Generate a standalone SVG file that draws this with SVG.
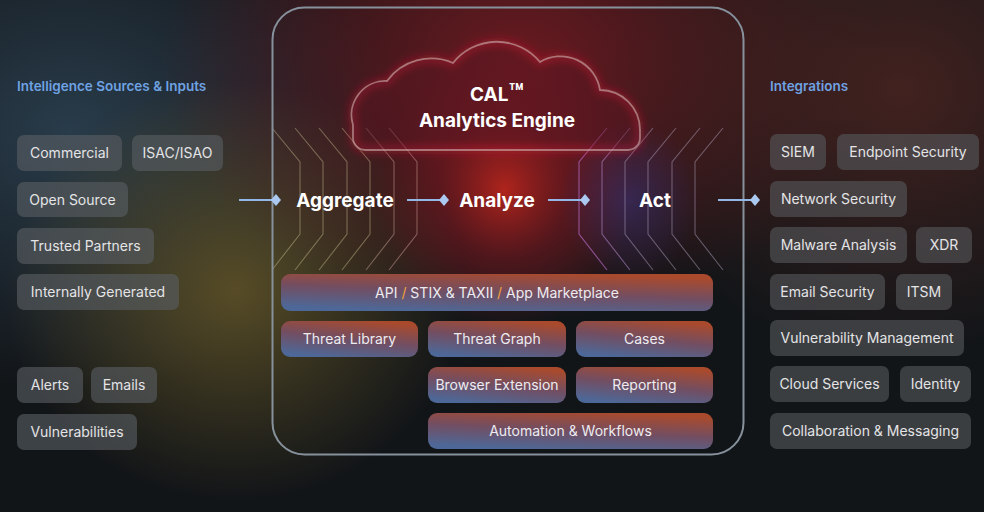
<svg xmlns="http://www.w3.org/2000/svg" width="984" height="512" viewBox="0 0 984 512">
<defs>
<style>
.bx{fill:#595e62;fill-opacity:0.62}
.bxr{fill:#55575a;fill-opacity:0.62}
.lb{font-family:Inter,"Noto Sans",sans-serif;font-size:14px;fill:#e4e4e6;text-anchor:middle}
.ttl{font-family:Inter,"Noto Sans",sans-serif;font-size:13.5px;font-weight:600;fill:#6fa2e2}
.big{font-family:Inter,"Noto Sans",sans-serif;font-size:19px;font-weight:700;fill:#ffffff;text-anchor:middle}
.gb{fill:url(#boxg)}
.gl{font-family:Inter,"Noto Sans",sans-serif;font-size:14px;fill:#ececf0;text-anchor:middle}
.dl{fill:none;stroke-width:1.1}
.con{stroke:#93b8e8;stroke-width:2;fill:none}
</style>
<linearGradient id="boxg" x1="0.3" y1="1" x2="0.7" y2="0">
<stop offset="0" stop-color="#4d6898"/>
<stop offset="0.5" stop-color="#724e62"/>
<stop offset="1" stop-color="#aa4a2c"/>
</linearGradient>
<radialGradient id="bgL" cx="0.5" cy="0.5" r="0.5"><stop offset="0" stop-color="#2b4050" stop-opacity="0.9"/><stop offset="1" stop-color="#2b4050" stop-opacity="0"/></radialGradient>
<radialGradient id="bgO" cx="0.5" cy="0.5" r="0.5"><stop offset="0" stop-color="#5a4e26" stop-opacity="0.95"/><stop offset="1" stop-color="#5a4e26" stop-opacity="0"/></radialGradient>
<radialGradient id="bgR" cx="0.5" cy="0.5" r="0.5"><stop offset="0" stop-color="#6e1a20" stop-opacity="0.95"/><stop offset="1" stop-color="#6e1a20" stop-opacity="0"/></radialGradient>
<radialGradient id="bgRR" cx="0.5" cy="0.5" r="0.5"><stop offset="0" stop-color="#4a2420" stop-opacity="0.85"/><stop offset="1" stop-color="#4a2420" stop-opacity="0"/></radialGradient>
<radialGradient id="hot" cx="0.5" cy="0.5" r="0.5"><stop offset="0" stop-color="#e02a1c" stop-opacity="0.7"/><stop offset="0.5" stop-color="#a01820" stop-opacity="0.32"/><stop offset="1" stop-color="#a01820" stop-opacity="0"/></radialGradient>
<radialGradient id="blu" cx="0.5" cy="0.5" r="0.5"><stop offset="0" stop-color="#3a3a90" stop-opacity="0.45"/><stop offset="1" stop-color="#3a3a90" stop-opacity="0"/></radialGradient>
<linearGradient id="streak" x1="0" y1="0" x2="0" y2="1">
<stop offset="0" stop-color="#ff5a20" stop-opacity="0"/>
<stop offset="0.35" stop-color="#ff5a20" stop-opacity="0.8"/>
<stop offset="0.7" stop-color="#e0301a" stop-opacity="0.6"/>
<stop offset="1" stop-color="#e0301a" stop-opacity="0"/>
</linearGradient>
<filter id="blur2" x="-50%" y="-50%" width="200%" height="200%"><feGaussianBlur stdDeviation="2"/></filter>
<filter id="blur4" x="-20%" y="-20%" width="140%" height="140%"><feGaussianBlur stdDeviation="4"/></filter>
<marker id="dia" viewBox="0 0 10 12" refX="5" refY="6" markerWidth="10" markerHeight="12" markerUnits="userSpaceOnUse" orient="auto">
<path d="M0 6 L5 0 L10 6 L5 12 Z" fill="#abc9f0"/>
</marker>
</defs>

<!-- background -->
<rect x="0" y="0" width="984" height="512" fill="#121518"/>
<ellipse cx="70" cy="130" rx="330" ry="260" fill="url(#bgL)"/>
<ellipse cx="235" cy="290" rx="230" ry="210" fill="url(#bgO)"/>
<ellipse cx="520" cy="60" rx="360" ry="260" fill="url(#bgR)"/>
<ellipse cx="900" cy="90" rx="300" ry="260" fill="url(#bgRR)"/>
<ellipse cx="505" cy="190" rx="130" ry="140" fill="url(#hot)"/>
<ellipse cx="630" cy="200" rx="70" ry="80" fill="url(#blu)"/>

<!-- decorative circuit lines -->
<g id="decor">
<g class="dl" stroke="#c8bf8e" stroke-opacity="0.45">
<polyline points="272,128 300,162 300,234 272,270"/>
<polyline points="295,128 323,162 323,234 295,270"/>
<polyline points="319,128 347,162 347,234 319,270"/>
<polyline points="342,128 370,162 370,234 342,270"/>
<polyline points="366,128 394,162 394,234 366,270" stroke="#d0b0a0"/>
<polyline points="389,128 417,162 417,234 389,270" stroke="#d8a8a0"/>
</g>
<g class="dl" stroke="#b8aec8" stroke-opacity="0.45">
<polyline points="607,128 579,162 579,234 607,270" stroke="#c070d0" stroke-opacity="0.65"/>
<polyline points="630,128 602,162 602,234 630,270" stroke="#b890d0" stroke-opacity="0.55"/>
<polyline points="653,128 625,162 625,234 653,270"/>
<polyline points="676,128 648,162 648,234 676,270"/>
<polyline points="700,128 672,162 672,234 700,270"/>
<polyline points="723,128 695,162 695,234 723,270"/>
</g>
<g stroke="url(#streak)" stroke-width="3" filter="url(#blur2)">
<line x1="440" y1="125" x2="440" y2="272"/>
<line x1="462" y1="125" x2="462" y2="272"/>
<line x1="485" y1="125" x2="485" y2="272"/>
<line x1="505" y1="125" x2="505" y2="272"/>
<line x1="523" y1="125" x2="523" y2="272"/>
<line x1="536" y1="125" x2="536" y2="272"/>
<line x1="558" y1="125" x2="558" y2="272"/>
</g>
<g stroke="url(#streak)" stroke-width="1.2">
<line x1="440" y1="125" x2="440" y2="272"/>
<line x1="462" y1="125" x2="462" y2="272"/>
<line x1="485" y1="125" x2="485" y2="272"/>
<line x1="505" y1="125" x2="505" y2="272"/>
<line x1="523" y1="125" x2="523" y2="272"/>
<line x1="536" y1="125" x2="536" y2="272"/>
<line x1="558" y1="125" x2="558" y2="272"/>
</g>
</g>

<!-- cloud -->
<g id="cloud">
<path d="M 365 150 H 628 A 12 12 0 0 0 640 138 L 640 130 A 40 40 0 0 0 600 90 A 40 40 0 0 0 540 62 A 56 56 0 0 0 453 63 A 55 55 0 0 0 387 81 A 34 34 0 0 0 353 125 L 353 138 A 12 12 0 0 0 365 150 Z" fill="#5a0f22" fill-opacity="0.5" stroke="#ff2040" stroke-width="5" stroke-opacity="0.35" filter="url(#blur4)"/>
<path d="M 365 150 H 628 A 12 12 0 0 0 640 138 L 640 130 A 40 40 0 0 0 600 90 A 40 40 0 0 0 540 62 A 56 56 0 0 0 453 63 A 55 55 0 0 0 387 81 A 34 34 0 0 0 353 125 L 353 138 A 12 12 0 0 0 365 150 Z" fill="none" stroke="#cfb0b0" stroke-opacity="0.6" stroke-width="1.8"/>
<text class="big" x="497" y="101">CAL<tspan style="font-size:24px">™</tspan></text>
<text class="big" x="497" y="127">Analytics Engine</text>
</g>

<!-- container -->
<rect id="engine-frame" x="272.5" y="7.5" width="471" height="447" rx="32" fill="none" stroke="#86919c" stroke-width="2"/>

<!-- connectors -->
<g id="connectors">
<line class="con" x1="239" y1="200" x2="276" y2="200" marker-end="url(#dia)"/>
<line class="con" x1="407" y1="200" x2="444" y2="200" marker-end="url(#dia)"/>
<line class="con" x1="548" y1="200" x2="585" y2="200" marker-end="url(#dia)"/>
<line class="con" x1="718" y1="200" x2="755" y2="200" marker-end="url(#dia)"/>
</g>

<!-- stage labels -->
<g id="stage-aggregate"><text class="big" x="345" y="207">Aggregate</text></g>
<g id="stage-analyze"><text class="big" x="497" y="207">Analyze</text></g>
<g id="stage-act"><text class="big" x="655" y="207">Act</text></g>

<!-- left column -->
<text class="ttl" x="17" y="91">Intelligence Sources &amp; Inputs</text>
<g id="src-commercial"><rect class="bx" x="17" y="135" width="105" height="36" rx="7"/><text class="lb" x="69.5" y="158">Commercial</text></g>
<g id="src-isac"><rect class="bx" x="132" y="135" width="91" height="36" rx="7"/><text class="lb" x="177.5" y="158">ISAC/ISAO</text></g>
<g id="src-open"><rect class="bx" x="17" y="182" width="111" height="35" rx="7"/><text class="lb" x="72.5" y="204.5">Open Source</text></g>
<g id="src-trusted"><rect class="bx" x="17" y="228" width="137" height="36" rx="7"/><text class="lb" x="85.5" y="251">Trusted Partners</text></g>
<g id="src-internal"><rect class="bx" x="17" y="274" width="162" height="36" rx="7"/><text class="lb" x="98" y="297">Internally Generated</text></g>
<g id="src-alerts"><rect class="bx" x="17" y="367" width="66" height="36" rx="7"/><text class="lb" x="50" y="390">Alerts</text></g>
<g id="src-emails"><rect class="bx" x="91" y="367" width="66" height="36" rx="7"/><text class="lb" x="124" y="390">Emails</text></g>
<g id="src-vuln"><rect class="bx" x="17" y="414" width="120" height="36" rx="7"/><text class="lb" x="77" y="437">Vulnerabilities</text></g>

<!-- center modules -->
<g id="mod-api"><rect class="gb" x="281" y="274" width="432" height="37" rx="9"/><text class="gl" x="497" y="297.5">API <tspan fill="#f2a23c">/</tspan> STIX &amp; TAXII <tspan fill="#f2a23c">/</tspan> App Marketplace</text></g>
<g id="mod-library"><rect class="gb" x="281" y="321" width="137" height="36" rx="9"/><text class="gl" x="349.5" y="344">Threat Library</text></g>
<g id="mod-graph"><rect class="gb" x="428" y="321" width="138" height="36" rx="9"/><text class="gl" x="497" y="344">Threat Graph</text></g>
<g id="mod-cases"><rect class="gb" x="576" y="321" width="137" height="36" rx="9"/><text class="gl" x="644.5" y="344">Cases</text></g>
<g id="mod-browser"><rect class="gb" x="428" y="367" width="138" height="36" rx="9"/><text class="gl" x="497" y="390">Browser Extension</text></g>
<g id="mod-reporting"><rect class="gb" x="576" y="367" width="137" height="36" rx="9"/><text class="gl" x="644.5" y="390">Reporting</text></g>
<g id="mod-automation"><rect class="gb" x="428" y="413" width="285" height="36" rx="9"/><text class="gl" x="570.5" y="436">Automation &amp; Workflows</text></g>

<!-- right column -->
<text class="ttl" x="770" y="91">Integrations</text>
<g id="int-siem"><rect class="bxr" x="770" y="134" width="56" height="36" rx="7"/><text class="lb" x="798" y="157">SIEM</text></g>
<g id="int-endpoint"><rect class="bxr" x="837" y="134" width="142" height="36" rx="7"/><text class="lb" x="908" y="157">Endpoint Security</text></g>
<g id="int-network"><rect class="bxr" x="770" y="181" width="137" height="36" rx="7"/><text class="lb" x="838.5" y="204">Network Security</text></g>
<g id="int-malware"><rect class="bxr" x="770" y="227" width="137" height="36" rx="7"/><text class="lb" x="838.5" y="250">Malware Analysis</text></g>
<g id="int-xdr"><rect class="bxr" x="916" y="227" width="56" height="36" rx="7"/><text class="lb" x="944" y="250">XDR</text></g>
<g id="int-email"><rect class="bxr" x="770" y="274" width="115" height="36" rx="7"/><text class="lb" x="827.5" y="297">Email Security</text></g>
<g id="int-itsm"><rect class="bxr" x="896" y="274" width="56" height="36" rx="7"/><text class="lb" x="924" y="297">ITSM</text></g>
<g id="int-vuln"><rect class="bxr" x="770" y="320" width="194" height="36" rx="7"/><text class="lb" x="867" y="343">Vulnerability Management</text></g>
<g id="int-cloud"><rect class="bxr" x="770" y="366" width="119" height="36" rx="7"/><text class="lb" x="829.5" y="389">Cloud Services</text></g>
<g id="int-identity"><rect class="bxr" x="900" y="366" width="71" height="36" rx="7"/><text class="lb" x="935.5" y="389">Identity</text></g>
<g id="int-collab"><rect class="bxr" x="770" y="413" width="201" height="36" rx="7"/><text class="lb" x="870.5" y="436">Collaboration &amp; Messaging</text></g>
</svg>
